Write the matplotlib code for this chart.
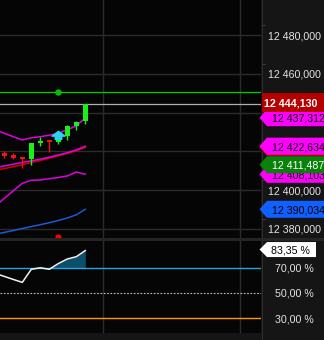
import matplotlib
matplotlib.use("Agg")
import matplotlib.pyplot as plt
from matplotlib.patches import Polygon, Rectangle
from matplotlib.path import Path
from matplotlib.lines import Line2D
from matplotlib.transforms import IdentityTransform, blended_transform_factory, offset_copy

W, H, DPI = 324, 340, 100

# ---- price bars -----------------------------------------------------------
bar_idx = list(range(10))
opens  = [12419251, 12417910, 12416516, 12416000, 12424258, 12425290, 12424774, 12428026, 12433290, 12435458]
highs  = [12420129, 12418942, 12416516, 12424413, 12427200, 12425290, 12426168, 12433548, 12435768, 12444130]
lows   = [12416671, 12415845, 12411200, 12413058, 12422968, 12419768, 12423742, 12425651, 12431122, 12434116]
closes = [12417548, 12416671, 12416206, 12424413, 12425445, 12424980, 12426168, 12433135, 12435200, 12444130]

# ---- indicator lines (start one bar before the first visible candle) -------
line_idx = list(range(-1, 10))
bb_upper = [12431019, 12429264, 12427510, 12425806, 12426942, 12427510, 12428284, 12429161, 12431174, 12433032, 12437312]
bb_mid   = [12411561, 12412439, 12413316, 12414193, 12415071, 12415897, 12416929, 12418064, 12419251, 12420645, 12422634]
ma_red   = [12410168, 12411045, 12412026, 12413058, 12414193, 12415277, 12416464, 12417651, 12418890, 12420181, 12422039]
bb_lower = [12391742, 12395664, 12399587, 12403458, 12405058, 12405161, 12405832, 12406451, 12407226, 12409290, 12408103]
ma_blue  = [12377135, 12378116, 12379097, 12380129, 12381110, 12382090, 12383123, 12384258, 12385548, 12387200, 12390034]
osc      = [65.3, 63.0, 60.6, 58.3, 68.6, 69.8, 68.6, 73.1, 76.7, 78.5, 83.35]

level_green = 12450426
aux_value = 12411487
signal_idx = 6
price_ticks = [12380000, 12400000, 12420000, 12440000, 12460000, 12480000]
minor_ticks = [12385000, 12405000, 12425000, 12445000, 12465000, 12485000]
osc_levels = [30, 50, 70]
time_grid = [11.02, 26.2]

# ---- colours ---------------------------------------------------------------
BG = "#050505"
PANEL = "#151515"
GRID = "#2b2b2b"
UP = "#19f019"
DOWN = "#f01414"
MAGENTA = "#e000e0"
LBL_MAGENTA = "#ff00ff"
BLUE = "#1a5ad2"
LBL_BLUE = "#1060ff"
RED_MA = "#d00000"
FONT = "Liberation Sans"

fig = plt.figure(figsize=(W / DPI, H / DPI), dpi=DPI, facecolor=PANEL)

plot_w = 261
ax = fig.add_axes([0, (H - 238) / H, plot_w / W, 238 / H])
axo = fig.add_axes([0, (H - 333) / H, plot_w / W, 92 / H])

step_px = 9.0
x0 = -0.478
xlim = (x0, x0 + plot_w / step_px)

for a in (ax, axo):
    a.set_facecolor(BG)
    a.set_xlim(*xlim)
    for s in a.spines.values():
        s.set_visible(False)
    a.set_xticks([])
    a.set_yticks([])
    for gx in time_grid:
        a.axvline(gx, color=GRID, lw=1.0, zorder=0)

ax.set_ylim(12375226, 12498065)
axo.set_ylim(18.43, 90.87)

# horizontal price grid
for p in price_ticks:
    ax.axhline(p, color=GRID, lw=1.0, zorder=0)

# ---- main panel ------------------------------------------------------------
ax.axhline(level_green, color="#00d200", lw=0.9, zorder=2)
ax.plot([signal_idx], [level_green], "o", color="#00c000", ms=4.6, mec="none", zorder=3)
ax.axhline(closes[-1], color="#b0b0b0", lw=0.9, zorder=2)

ax.plot(line_idx, ma_blue, color=BLUE, lw=1.1, zorder=2)
ax.plot(line_idx, bb_lower, color=MAGENTA, lw=1.1, zorder=2)
ax.plot(line_idx, ma_red, color=RED_MA, lw=1.1, zorder=2)
ax.plot(line_idx, bb_mid, color=MAGENTA, lw=1.1, zorder=2)
ax.plot(line_idx, bb_upper, color=MAGENTA, lw=1.1, zorder=2)

min_body = 600
for i, o, h, l, c in zip(bar_idx, opens, highs, lows, closes):
    col = UP if c >= o else DOWN
    ax.vlines(i, l, h, color=col, lw=1.0, zorder=4)
    ax.bar(i, max(abs(c - o), min_body), bottom=min(o, c), width=0.56,
           color=col, lw=0, zorder=4)

# buy-signal arrow above the signal candle
arrow = Path([(0, 0.32), (0.5, -0.05), (0.25, -0.05), (0.25, -0.3),
              (-0.25, -0.3), (-0.25, -0.05), (-0.5, -0.05), (0, 0.32)],
             [Path.MOVETO] + [Path.LINETO] * 6 + [Path.CLOSEPOLY])
tr_up = offset_copy(ax.transData, fig=fig, x=0, y=4.8 * 72 / DPI, units="points")
ax.plot([signal_idx], [highs[signal_idx]], marker=arrow, ms=13 * 72 / DPI,
        color="#28d4f4", mec="#28d4f4", ls="none", transform=tr_up, zorder=5)

# sell marker at the lower edge
tr_bottom = blended_transform_factory(ax.transData, ax.transAxes)
ax.plot([signal_idx], [0.004], "o", color="#ff0000", ms=4.4, mec="none",
        transform=tr_bottom, zorder=5)

# ---- oscillator panel ------------------------------------------------------
axo.axhline(osc_levels[2], color="#22a8e0", lw=1.0, zorder=2)
axo.axhline(osc_levels[1], color="#c0c0c0", lw=0.8, ls=(0, (1.5, 1.5)), zorder=2)
axo.axhline(osc_levels[0], color="#ff9800", lw=1.0, zorder=2)
axo.fill_between(line_idx, osc, osc_levels[2], where=[v >= osc_levels[2] for v in osc],
                 interpolate=True, color="#0b4f6a", lw=0, zorder=1)
axo.plot(line_idx, osc, color="#f2f2f2", lw=1.1, zorder=3)

# ---- right-hand scale ------------------------------------------------------
fig.add_artist(Line2D([plot_w + 0.5, plot_w + 0.5], [0, H], color="#2e2e2e",
                      lw=1.0 * 72 / DPI, transform=IdentityTransform(), zorder=4))
fig.add_artist(Rectangle((0, H - 241), W, 3, color="#252525", lw=0,
                         transform=IdentityTransform(), zorder=4))


def py(axis, v):
    return axis.transData.transform((0, v))[1]


def price_text(v):
    s = f"{v / 1000:,.3f}"
    return s.replace(",", " ").replace(".", ",")


def tick_label(y, text, x=268.5):
    fig.text(x, y, text, transform=IdentityTransform(), ha="left",
             va="center_baseline", fontsize=7.7, family=FONT, color="#e4e4e4",
             zorder=5)


# value markers on the scale: (value, face, text colour, shift in px, show text)
markers = [
    (ma_red[-1], "#e00000", "black", 0, False),
    (bb_mid[-1], LBL_MAGENTA, "black", 0, True),
    (bb_lower[-1], LBL_MAGENTA, "black", 0, True),
    (aux_value, "#0a820a", "white", 3, True),
    (ma_blue[-1], LBL_BLUE, "black", 0, True),
    (bb_upper[-1], LBL_MAGENTA, "black", 0, True),
]
marker_ys = [py(ax, m[0]) + m[3] for m in markers] + [py(ax, closes[-1]) + 1.5]

# grid values are printed only where no value marker covers them
for p in price_ticks:
    y = py(ax, p)
    if all(abs(y - my) > 10 for my in marker_ys):
        tick_label(y, price_text(p))
for p in minor_ticks:
    y = py(ax, p)
    fig.add_artist(Line2D([262, 265], [y, y], color="#3a3a3a", lw=0.7,
                          transform=IdentityTransform(), zorder=5))

for lv in osc_levels:
    tick_label(py(axo, lv), f"{lv:.2f}".replace(".", ",") + " %", x=275)

layer = [10]


def arrow_label(yc, text, face, tcolor, h=17, right=W + 2, tx=271.5, ha="left"):
    tip, left = 259.5, 267.0
    z = layer[0]
    layer[0] += 2
    pts = [(tip, yc), (left, yc + h / 2), (right, yc + h / 2),
           (right, yc - h / 2), (left, yc - h / 2)]
    fig.add_artist(Polygon(pts, closed=True, fc=face, ec="none",
                           transform=IdentityTransform(), zorder=z))
    if text:
        fig.text(tx, yc, text, transform=IdentityTransform(), ha=ha,
                 va="center_baseline", fontsize=7.7, family=FONT, color=tcolor,
                 zorder=z + 1)


for (v, face, tcol, shift, show), yc in zip(markers, marker_ys):
    arrow_label(yc, price_text(v) if show else "", face, tcol)

# last price box
zc = layer[0]
yc = marker_ys[-1]
fig.add_artist(Rectangle((plot_w + 0.5, yc - 9.5), W - plot_w, 19, fc="#b40000",
                         ec="none", transform=IdentityTransform(), zorder=zc))
fig.text(263.5, yc, price_text(closes[-1]), transform=IdentityTransform(),
         ha="left", va="center_baseline", fontsize=7.7, family=FONT,
         color="white", fontweight="bold", zorder=zc + 1)

# last oscillator value
arrow_label(py(axo, osc[-1]) + 1.0, f"{osc[-1]:.2f}".replace(".", ",") + " %",
            "white", "black", h=15, right=316, tx=290, ha="center")

fig.savefig("out.png", dpi=DPI, facecolor=PANEL)
